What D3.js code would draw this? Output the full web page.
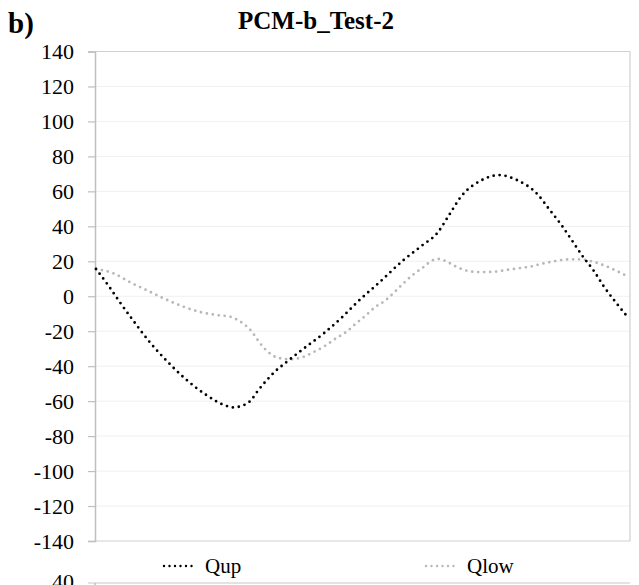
<!DOCTYPE html>
<html><head><meta charset="utf-8">
<script src="https://cdn.jsdelivr.net/npm/d3@7"></script>
<style>body{margin:0;background:#fff}svg{display:block}text{font-family:"Liberation Serif","Times New Roman",serif}</style>
</head><body>
<svg id="c" width="639" height="585"></svg>
<script>
const chartTitle = "PCM-b_Test-2";
const panelLabel = "b)";
const seriesNames = ["Qup", "Qlow"];
const yTickValues = [-140,-120,-100,-80,-60,-40,-20,0,20,40,60,80,100,120,140];
const nextChartLabel = "40";

const qupX = [0,2.4,4.5,6.6,10.2,13.3,16.7,20.5,24.6,25.8,27.1,29.1,30.5,32.1,33.6,35.5,39.1,42.9,46.5,49,53.4,57.8,61.4,64.2,66.1,68.7,72.3,75.8,79.1,83,85.2,87.4,89.4,91.4,93.6,95.5,97.6,100];
const qupY = [15.6,5.8,-3.5,-12.3,-26.6,-37,-47,-56,-62.8,-63.6,-63,-59.6,-53.8,-48,-43.2,-38.4,-29.8,-21,-11.3,-3.7,8.3,20.7,29.3,36.3,45.1,57.3,66.1,69.3,66.5,58.3,49.7,41.1,32.2,23.2,14.4,5.4,-3.1,-12.1];

const qlowX = [0,3.3,6.4,9.5,12.7,16.1,19.4,22.8,25.2,26.4,27.6,29.3,30.5,32.1,34,36.5,38.7,41,43,45.1,47.1,48.9,50.6,52.4,54.3,57.8,59.5,61.4,63.4,64.5,65.6,67.7,70,72.2,74.7,77.1,79.4,81.6,84.1,86.3,88.8,91,93.5,95.7,97.9,100];
const qlowY = [15.6,13.1,8,3.5,-1.2,-5.6,-8.9,-10.8,-11.7,-13.2,-15.5,-20.3,-25.5,-31.2,-35,-36.1,-35,-31.8,-28.5,-24.1,-20.3,-15.5,-11.3,-6.4,-2.6,7.4,12.1,16.3,20.7,21.3,20.3,16.9,14.4,13.8,14,15,16,16.9,18.8,20.1,21.1,21.1,19.7,17.4,14.4,11.2];

const svg = d3.select("#c");
const L = 95, R = 630, T = 51.5, B = 541;
const x = d3.scaleLinear().domain([0,100]).range([96, 628]);
const y = d3.scaleLinear().domain([-140,140]).range([B, T]);
const serif = '"Liberation Serif","Times New Roman",serif';

// gridlines
svg.append("g").selectAll("line").data(yTickValues.filter(v => v > -140 && v < 140)).join("line")
  .attr("x1", L).attr("x2", R).attr("y1", d => y(d)).attr("y2", d => y(d))
  .attr("stroke", "#f0f0f0").attr("stroke-width", 1);

// plot border (top, right, bottom)
svg.append("path").attr("d", `M${L},${T}H${R}V${B}H${L}`)
  .attr("fill", "none").attr("stroke", "#d0d0d0").attr("stroke-width", 1.2);

// y axis
const yAxis = d3.axisLeft(y).tickValues(yTickValues).tickSize(7).tickPadding(14).tickFormat(d3.format("d"));
const ga = svg.append("g").attr("transform", `translate(${L},0)`).call(yAxis);
ga.attr("font-family", null);
ga.select(".domain").attr("stroke", "#bfbfbf").attr("stroke-width", 1.5);
ga.selectAll(".tick line").attr("stroke", "#bfbfbf").attr("stroke-width", 1.2);
ga.selectAll(".tick text").style("font-family", serif).style("font-size", "22px").attr("fill", "#000")
  .text(d => d < 0 ? "-" + Math.abs(d) : d);

// lines
const line = d3.line().x(d => x(d[0])).y(d => y(d[1])).curve(d3.curveMonotoneX);
const qup = qupX.map((v,i) => [v, qupY[i]]);
const qlow = qlowX.map((v,i) => [v, qlowY[i]]);
const colors = ["#000000", "#b8b8b8"];
svg.append("path").datum(qlow).attr("d", line).attr("fill","none")
  .attr("stroke", colors[1]).attr("stroke-width", 2.8).attr("stroke-linecap","round").attr("stroke-dasharray","0 6");
svg.append("path").datum(qup).attr("d", line).attr("fill","none")
  .attr("stroke", colors[0]).attr("stroke-width", 2.8).attr("stroke-linecap","round").attr("stroke-dasharray","0 6");

// title and panel label
svg.append("text").attr("x", 316).attr("y", 29).attr("text-anchor","middle")
  .style("font-family", serif).style("font-weight","bold").style("font-size", "25px").text(chartTitle);
svg.append("text").attr("x", 8).attr("y", 33)
  .style("font-family", serif).style("font-weight","bold").style("font-size", "29px").text(panelLabel);

// legend
const legX = [164, 426];
seriesNames.forEach((n, i) => {
  svg.append("line").attr("x1", legX[i]).attr("x2", legX[i] + 32).attr("y1", 566).attr("y2", 566)
    .attr("stroke", colors[i]).attr("stroke-width", 2.4).attr("stroke-linecap","round").attr("stroke-dasharray","0 5.5");
  svg.append("text").attr("x", legX[i] + 41).attr("y", 573)
    .style("font-family", serif).style("font-size", "21px").text(n);
});

// next chart (cut off at the bottom edge)
svg.append("line").attr("x1", 88).attr("x2", R).attr("y1", 583).attr("y2", 583).attr("stroke", "#c8c8c8").attr("stroke-width", 1.2);
svg.append("line").attr("x1", L).attr("x2", L).attr("y1", 583).attr("y2", 585).attr("stroke", "#bfbfbf").attr("stroke-width", 1.5);
svg.append("text").attr("x", 74).attr("y", 589).attr("text-anchor","end")
  .style("font-family", serif).style("font-size", "22px").text(nextChartLabel);
</script>
</body></html>
